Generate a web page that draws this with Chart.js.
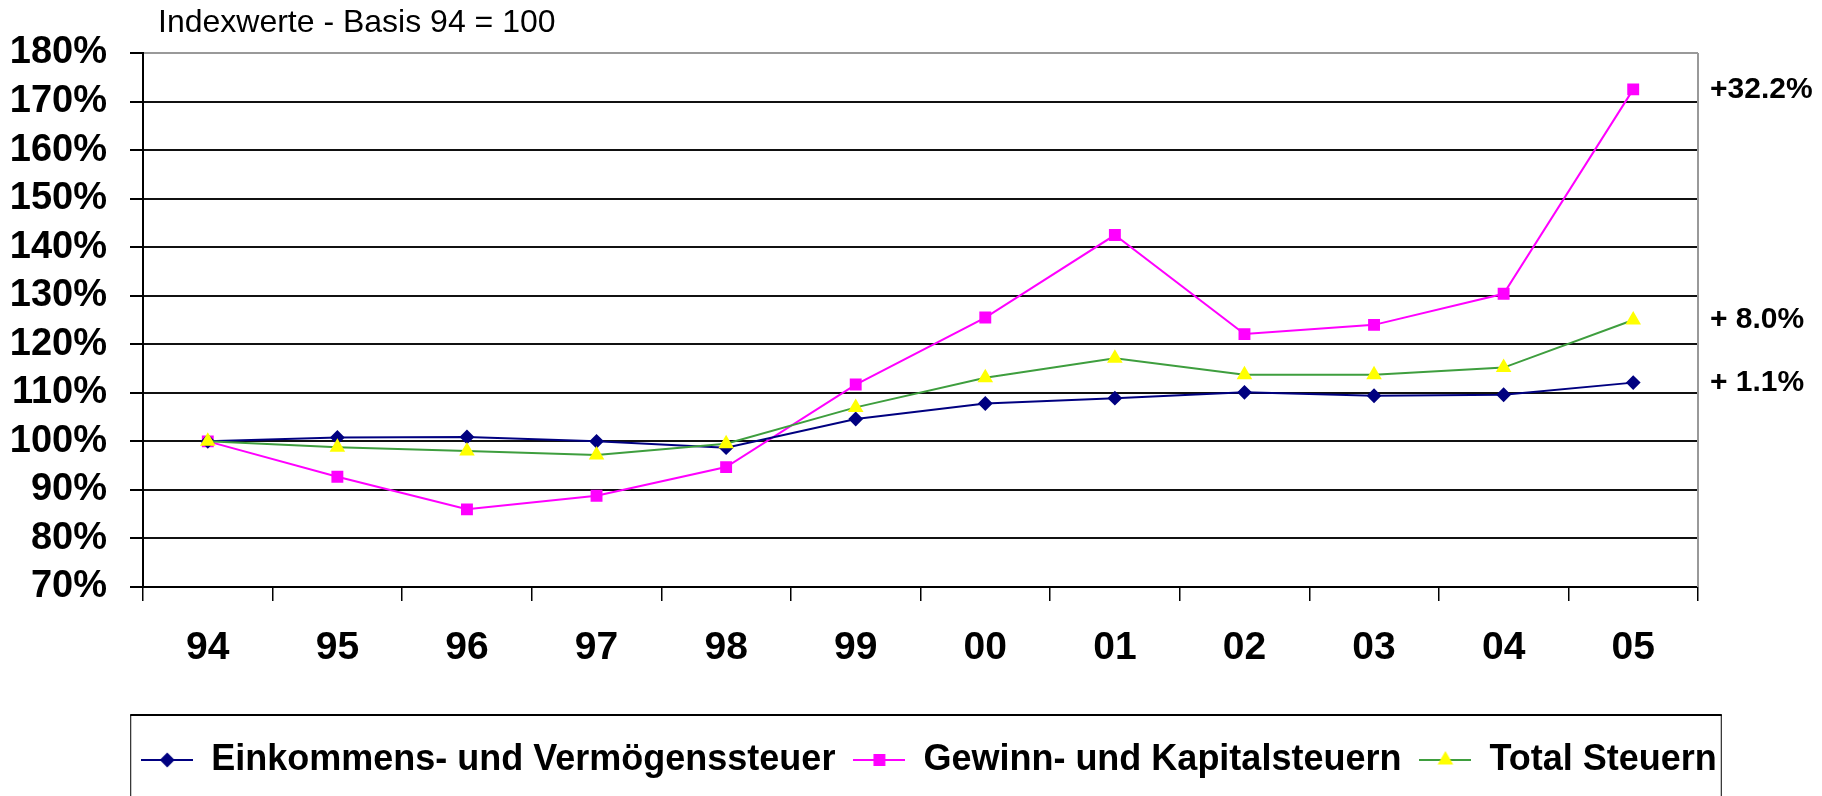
<!DOCTYPE html>
<html>
<head>
<meta charset="utf-8">
<script src="https://cdn.jsdelivr.net/npm/chart.js@4/dist/chart.umd.min.js"></script>
<style>
  html, body { margin: 0; padding: 0; background: #fff; }
  #wrap { width: 1822px; height: 796px; }
</style>
</head>
<body>
<div id="wrap"><canvas id="chart" width="1822" height="796"></canvas></div>
<script>
// Indexwerte - Basis 94 = 100
const years = ['94', '95', '96', '97', '98', '99', '00', '01', '02', '03', '04', '05'];
const einkommen = [100, 100.8, 100.9, 100.0, 98.7, 104.6, 107.8, 108.9, 110.1, 109.4, 109.6, 112.1];
const gewinn = [100, 92.7, 86.0, 88.8, 94.7, 111.7, 125.5, 142.5, 122.1, 124.0, 130.4, 172.5];
const total = [100, 98.8, 98.0, 97.2, 99.5, 107.0, 113.1, 117.1, 113.7, 113.7, 115.2, 125.0];
const seriesNames = ['Einkommens- und Vermögenssteuer', 'Gewinn- und Kapitalsteuern', 'Total Steuern'];
const endLabels = ['+ 1.1%', '+32.2%', '+ 8.0%'];
const yTicks = [70, 80, 90, 100, 110, 120, 130, 140, 150, 160, 170, 180];
const chartTitle = 'Indexwerte - Basis 94 = 100';

const FONT = "'Liberation Sans', Arial, Helvetica, sans-serif";

// small line+marker icon for the legend
function legendIcon(lineColor, markerColor, style, radius) {
    const c = document.createElement('canvas');
    c.width = 52;
    c.height = 20;
    const ctx = c.getContext('2d');
    ctx.strokeStyle = lineColor;
    ctx.lineWidth = 2;
    ctx.beginPath();
    ctx.moveTo(0, 10);
    ctx.lineTo(52, 10);
    ctx.stroke();
    ctx.fillStyle = markerColor;
    ctx.strokeStyle = markerColor;
    Chart.helpers.drawPoint(ctx, {pointStyle: style, radius: radius, rotation: 0, borderWidth: 1}, 26, 10);
    return c;
}

const extras = {
    id: 'extras',
    beforeDatasetsDraw(chart) {
        const {ctx, chartArea} = chart;
        ctx.save();
        ctx.strokeStyle = '#999';
        ctx.lineWidth = 2;
        ctx.beginPath();
        ctx.moveTo(chartArea.right, chartArea.top);
        ctx.lineTo(chartArea.right, chartArea.bottom);
        ctx.stroke();
        ctx.restore();
    },
    afterDraw(chart) {
        const {ctx, chartArea} = chart;
        ctx.save();
        // title
        ctx.fillStyle = '#000';
        ctx.font = '32px ' + FONT;
        ctx.textAlign = 'left';
        ctx.textBaseline = 'alphabetic';
        ctx.fillText(chartTitle, chartArea.left + 15, chartArea.top - 21);
        // end labels next to last point
        ctx.font = 'bold 30px ' + FONT;
        ctx.textBaseline = 'middle';
        endLabels.forEach((txt, i) => {
            const pts = chart.getDatasetMeta(i).data;
            const p = pts[pts.length - 1];
            ctx.fillText(txt, chartArea.right + 12, p.y);
        });
        // legend frame
        const lg = chart.legend;
        const hb = lg.legendHitBoxes;
        const left = hb[0].left - 11;
        const right = hb[hb.length - 1].left + hb[hb.length - 1].width + 4;
        const top = lg.top - 9;
        ctx.strokeStyle = '#000';
        ctx.lineWidth = 1;
        ctx.beginPath();
        ctx.moveTo(left + 0.5, chart.height + 5);
        ctx.lineTo(left + 0.5, top);
        ctx.lineTo(right + 0.5, top);
        ctx.lineTo(right + 0.5, chart.height + 5);
        ctx.stroke();
        ctx.lineWidth = 2;
        ctx.beginPath();
        ctx.moveTo(left, top);
        ctx.lineTo(right + 1, top);
        ctx.stroke();
        ctx.restore();
    }
};

const ctx = document.getElementById('chart').getContext('2d');
new Chart(ctx, {
    type: 'line',
    data: {
        labels: years,
        datasets: [{
            label: seriesNames[0],
            data: einkommen,
            borderColor: '#000080',
            backgroundColor: '#000080',
            borderWidth: 2,
            pointStyle: 'rectRot',
            pointRadius: 6,
            pointBackgroundColor: '#000080',
            pointBorderColor: '#000080',
            tension: 0,
            order: 1
        }, {
            label: seriesNames[1],
            data: gewinn,
            borderColor: '#FF00FF',
            backgroundColor: '#FF00FF',
            borderWidth: 2,
            pointStyle: 'rect',
            pointRadius: 7,
            pointBackgroundColor: '#FF00FF',
            pointBorderColor: '#FF00FF',
            tension: 0,
            order: 2
        }, {
            label: seriesNames[2],
            data: total,
            borderColor: '#3E9E3E',
            backgroundColor: '#3E9E3E',
            borderWidth: 2,
            pointStyle: 'triangle',
            pointRadius: 7,
            pointBackgroundColor: '#FFFF00',
            pointBorderColor: '#FFFF00',
            tension: 0,
            order: 0
        }]
    },
    options: {
        responsive: false,
        animation: false,
        layout: {
            padding: {top: 53, left: 8, right: -28, bottom: 8}
        },
        plugins: {
            tooltip: {enabled: false},
            title: {display: false},
            legend: {
                position: 'bottom',
                labels: {
                    usePointStyle: true,
                    pointStyleWidth: 52,
                    padding: 18,
                    color: '#000',
                    font: {family: FONT, size: 36, weight: 'bold'},
                    sort: (a, b) => a.datasetIndex - b.datasetIndex,
                    generateLabels: (chart) => {
                        const icons = [
                            legendIcon('#000080', '#000080', 'rectRot', 6),
                            legendIcon('#FF00FF', '#FF00FF', 'rect', 7),
                            legendIcon('#3E9E3E', '#FFFF00', 'triangle', 7)
                        ];
                        return chart.data.datasets.map((ds, i) => ({
                            text: ds.label,
                            datasetIndex: i,
                            pointStyle: icons[i],
                            fillStyle: ds.borderColor,
                            strokeStyle: ds.borderColor,
                            fontColor: '#000',
                            lineWidth: 0,
                            hidden: false
                        }));
                    }
                }
            }
        },
        scales: {
            x: {
                offset: true,
                grid: {
                    display: true,
                    offset: true,
                    drawOnChartArea: false,
                    drawTicks: true,
                    tickLength: 14,
                    color: '#000',
                    lineWidth: 1.5
                },
                border: {display: true, color: '#000', width: 2},
                ticks: {
                    color: '#000',
                    padding: 24,
                    maxRotation: 0,
                    autoSkip: false,
                    font: {family: FONT, size: 39, weight: 'bold'}
                },
                afterFit: (scale) => { scale.height = 137; }
            },
            y: {
                min: 70,
                max: 180,
                afterBuildTicks: (scale) => { scale.ticks = yTicks.map(v => ({value: v})); },
                grid: {
                    color: (c) => (c.tick && c.tick.value === 180 ? '#999' : '#111'),
                    tickColor: '#000',
                    lineWidth: 2,
                    tickLength: 13
                },
                border: {display: true, color: '#000', width: 2},
                ticks: {
                    color: '#000',
                    padding: 23,
                    autoSkip: false,
                    font: {family: FONT, size: 38, weight: 'bold'},
                    callback: (v) => v + '%'
                },
                afterFit: (scale) => { scale.width = 135; }
            },
            yRight: {
                position: 'right',
                display: true,
                grid: {display: false},
                border: {display: false},
                ticks: {display: false},
                afterFit: (scale) => { scale.width = 152; }
            }
        }
    },
    plugins: [extras]
});
</script>
</body>
</html>
